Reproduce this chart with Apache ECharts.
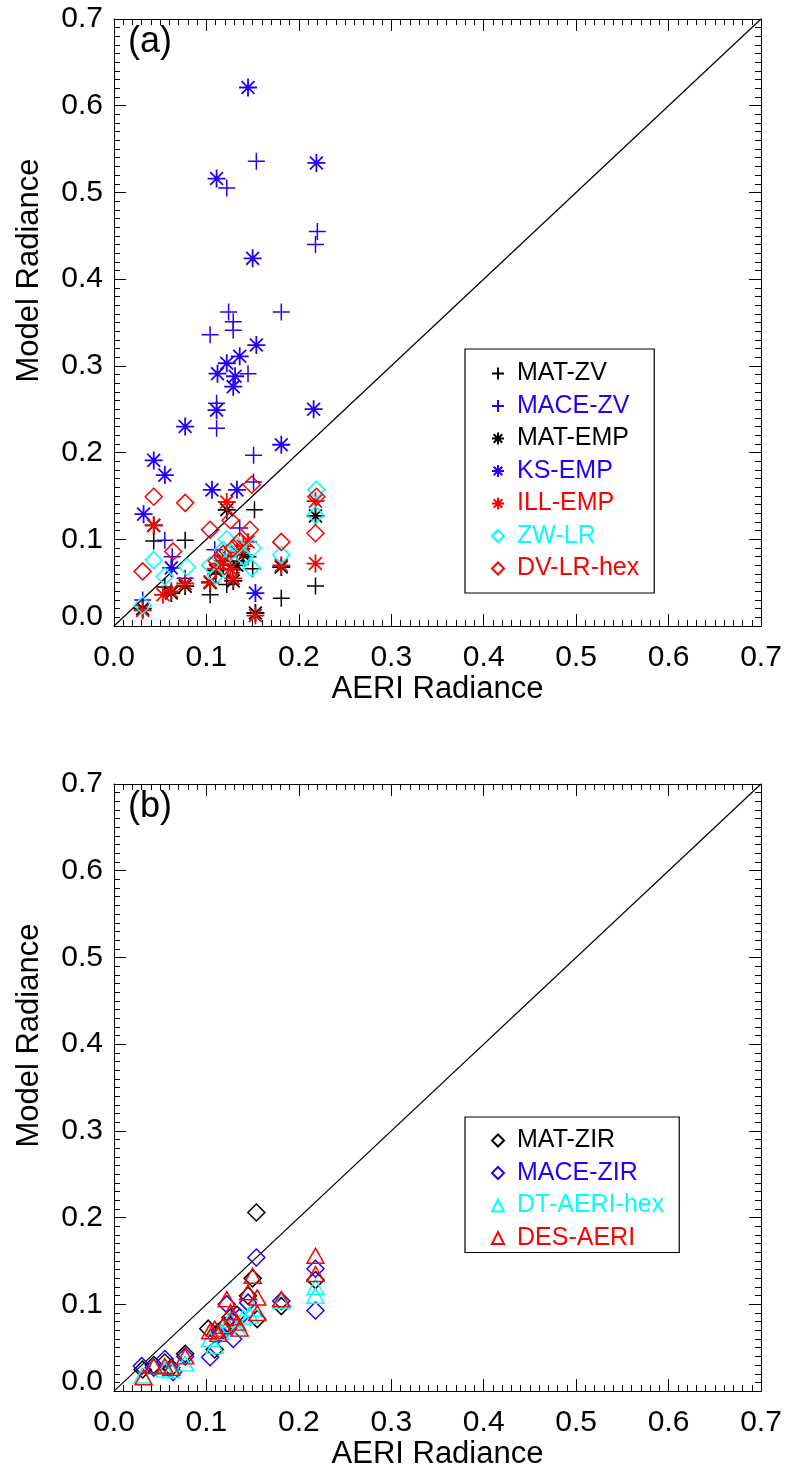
<!DOCTYPE html>
<html><head><meta charset="utf-8">
<script src="https://cdn.jsdelivr.net/npm/echarts@6/dist/echarts.min.js"></script>
<style>html,body{margin:0;padding:0;background:#fff;}#c{width:788px;height:1471px;}</style>
</head><body><div id="c"></div>
<script>
// ---- data ----
const tickLabels = ['0.0','0.1','0.2','0.3','0.4','0.5','0.6','0.7'];
const oneToOne = [[0,0],[0.7,0.7]];
// panel (a)
const MAT_ZV = [[0.031,0.020],[0.043,0.098],[0.055,0.045],[0.077,0.099],[0.104,0.036],[0.110,0.060],[0.118,0.070],[0.122,0.048],[0.129,0.065],[0.133,0.075],[0.145,0.080],[0.150,0.066],[0.152,0.134],[0.181,0.032],[0.218,0.046]];
const MACE_ZV = [[0.031,0.030],[0.055,0.099],[0.063,0.080],[0.077,0.055],[0.104,0.336],[0.109,0.088],[0.111,0.228],[0.111,0.257],[0.122,0.505],[0.124,0.362],[0.129,0.351],[0.129,0.341],[0.136,0.113],[0.145,0.291],[0.151,0.197],[0.151,0.166],[0.154,0.536],[0.181,0.362],[0.218,0.440],[0.220,0.455]];
const MAT_EMP = [[0.031,0.020],[0.043,0.116],[0.062,0.038],[0.077,0.046],[0.104,0.050],[0.110,0.064],[0.118,0.075],[0.122,0.134],[0.129,0.052],[0.133,0.070],[0.140,0.082],[0.153,0.015],[0.181,0.068],[0.218,0.127]];
const KS_EMP = [[0.032,0.129],[0.043,0.191],[0.055,0.174],[0.062,0.067],[0.077,0.230],[0.106,0.157],[0.111,0.249],[0.111,0.516],[0.112,0.291],[0.122,0.303],[0.129,0.276],[0.131,0.288],[0.133,0.157],[0.136,0.311],[0.145,0.621],[0.150,0.424],[0.154,0.324],[0.153,0.038],[0.181,0.209],[0.216,0.250],[0.219,0.534]];
const ILL_EMP = [[0.031,0.018],[0.043,0.116],[0.053,0.036],[0.062,0.040],[0.077,0.049],[0.104,0.051],[0.110,0.066],[0.115,0.072],[0.120,0.080],[0.122,0.143],[0.126,0.066],[0.129,0.055],[0.133,0.085],[0.140,0.092],[0.145,0.097],[0.153,0.012],[0.181,0.070],[0.218,0.072],[0.218,0.144]];
const ZW_LR = [[0.031,0.024],[0.043,0.076],[0.055,0.057],[0.079,0.068],[0.104,0.070],[0.110,0.058],[0.118,0.088],[0.122,0.100],[0.126,0.085],[0.133,0.093],[0.140,0.080],[0.149,0.067],[0.150,0.090],[0.181,0.082],[0.218,0.128],[0.219,0.157]];
const DV_LR_HEX = [[0.031,0.063],[0.043,0.149],[0.064,0.086],[0.077,0.142],[0.104,0.111],[0.111,0.075],[0.118,0.083],[0.126,0.122],[0.129,0.090],[0.136,0.098],[0.147,0.111],[0.149,0.163],[0.181,0.097],[0.218,0.107],[0.219,0.149]];
// panel (b)
const MAT_ZIR = [[0.031,0.025],[0.043,0.030],[0.055,0.033],[0.062,0.027],[0.077,0.043],[0.102,0.072],[0.109,0.048],[0.113,0.068],[0.120,0.075],[0.126,0.085],[0.129,0.080],[0.133,0.088],[0.145,0.110],[0.150,0.130],[0.154,0.206],[0.155,0.083],[0.181,0.098],[0.218,0.128]];
const MACE_ZIR = [[0.030,0.029],[0.043,0.027],[0.055,0.037],[0.064,0.022],[0.077,0.040],[0.104,0.039],[0.113,0.065],[0.122,0.100],[0.126,0.075],[0.129,0.060],[0.136,0.085],[0.145,0.102],[0.154,0.154],[0.181,0.104],[0.218,0.141],[0.218,0.093]];
const DT_AERI_HEX = [[0.031,0.018],[0.043,0.029],[0.055,0.025],[0.062,0.024],[0.077,0.032],[0.104,0.060],[0.109,0.052],[0.115,0.068],[0.122,0.076],[0.126,0.082],[0.133,0.072],[0.140,0.085],[0.147,0.087],[0.150,0.095],[0.181,0.104],[0.218,0.120],[0.218,0.110]];
const DES_AERI = [[0.032,0.016],[0.043,0.029],[0.055,0.029],[0.062,0.027],[0.077,0.040],[0.104,0.069],[0.109,0.072],[0.113,0.066],[0.118,0.075],[0.122,0.106],[0.126,0.091],[0.129,0.085],[0.133,0.079],[0.136,0.072],[0.145,0.114],[0.150,0.133],[0.155,0.108],[0.155,0.090],[0.181,0.106],[0.218,0.156],[0.218,0.135]];

// ---- styling ----
const FONT = 'Liberation Sans, Arial, Helvetica, sans-serif';
const BLUE = '#2200ff', RED = '#ff0000', CYAN = '#00ffff', BLACK = '#000000';
const PLUS = 'path://M0,8L16,8M8,0L8,16';
const STAR = 'path://M0,8L16,8M8,0L8,16M2.3,2.3L13.7,13.7M2.3,13.7L13.7,2.3';

const chart = echarts.init(document.getElementById('c'), null, {renderer:'canvas'});

function xAxes(gi){
  const base = {gridIndex:gi, type:'value', min:0, max:0.7, interval:0.1,
    axisLine:{show:true, onZero:false, lineStyle:{color:'#000', width:1}},
    axisTick:{show:true, inside:true, length:12, lineStyle:{color:'#000'}},
    minorTick:{show:true, splitNumber:10, length:6, lineStyle:{color:'#000'}},
    splitLine:{show:false}, minorSplitLine:{show:false}};
  return [
    Object.assign({}, base, {position:'bottom', name:'AERI Radiance', nameLocation:'middle', nameGap:47,
      nameTextStyle:{fontFamily:FONT, fontSize:31, color:'#000'},
      axisLabel:{fontFamily:FONT, fontSize:30, color:'#000', margin:17, formatter:(v)=>tickLabels[Math.round(v*10)]}}),
    Object.assign({}, base, {position:'top', axisLabel:{show:false}})
  ];
}
function yAxes(gi){
  const base = {gridIndex:gi, type:'value', min:0, max:0.7, interval:0.1,
    axisLine:{show:true, onZero:false, lineStyle:{color:'#000', width:1}},
    axisTick:{show:true, inside:true, length:12, lineStyle:{color:'#000'}},
    minorTick:{show:true, splitNumber:10, length:6, lineStyle:{color:'#000'}},
    splitLine:{show:false}, minorSplitLine:{show:false}};
  return [
    Object.assign({}, base, {position:'left', name:'Model Radiance', nameLocation:'middle', nameGap:69, nameRotate:90,
      nameTextStyle:{fontFamily:FONT, fontSize:31, color:'#000', padding:[0,0,0,104]},
      axisLabel:{fontFamily:FONT, fontSize:30, color:'#000', margin:11,
        formatter:(v)=>{const i=Math.round(v*10); return i===0 ? '{z|'+tickLabels[0]+'}' : tickLabels[i];},
        rich:{z:{fontFamily:FONT, fontSize:30, color:'#000', padding:[0,0,18,0]}}}}),
    Object.assign({}, base, {position:'right', axisLabel:{show:false}})
  ];
}
function sc(name, data, symbol, color, xi, yi, size, bw){
  return {name:name, type:'scatter', xAxisIndex:xi, yAxisIndex:yi, data:data, symbol:symbol,
    symbolSize:size||17, itemStyle:{color:'rgba(0,0,0,0)', borderColor:color, borderWidth:bw||1.5, opacity:1},
    emphasis:{disabled:true}, silent:true, z:3};
}
function legendItem(name, color){ return {name:name, textStyle:{color:color}}; }

const legendCommon = {orient:'vertical', borderColor:'#000', borderWidth:1.2, itemWidth:12, itemHeight:12,
  itemGap:7.5, selectedMode:false, textStyle:{fontFamily:FONT, fontSize:25, padding:[0,0,0,8]}};

const option = {
  backgroundColor:'#fff', animation:false,
  title:[
    {text:'(a)', left:123, top:19, textStyle:{fontFamily:FONT, fontSize:36, fontWeight:'normal', color:'#000'}},
    {text:'(b)', left:123, top:784, textStyle:{fontFamily:FONT, fontSize:36, fontWeight:'normal', color:'#000'}}
  ],
  grid:[
    {left:114, top:19, width:647, height:607, containLabel:false},
    {left:114, top:784, width:647, height:608, containLabel:false}
  ],
  xAxis:[...xAxes(0), ...xAxes(1)],
  yAxis:[...yAxes(0), ...yAxes(1)],
  legend:[
    Object.assign({}, legendCommon, {left:465, top:349, padding:[12,15,12,26],
      data:[legendItem('MAT-ZV',BLACK),legendItem('MACE-ZV',BLUE),legendItem('MAT-EMP',BLACK),legendItem('KS-EMP',BLUE),
            legendItem('ILL-EMP',RED),legendItem('ZW-LR',CYAN),legendItem('DV-LR-hex',RED)]}),
    Object.assign({}, legendCommon, {left:465, top:1117, padding:[11,15,2,26],
      data:[legendItem('MAT-ZIR',BLACK),legendItem('MACE-ZIR',BLUE),legendItem('DT-AERI-hex',CYAN),legendItem('DES-AERI',RED)]})
  ],
  series:[
    {type:'line', xAxisIndex:0, yAxisIndex:0, data:oneToOne, symbol:'none', lineStyle:{color:'#000', width:1.2}, silent:true, z:2},
    sc('MAT-ZV', MAT_ZV, PLUS, BLACK, 0, 0),
    sc('MACE-ZV', MACE_ZV, PLUS, BLUE, 0, 0),
    sc('MAT-EMP', MAT_EMP, STAR, BLACK, 0, 0, 18, 1.8),
    sc('KS-EMP', KS_EMP, STAR, BLUE, 0, 0, 18, 1.8),
    sc('ILL-EMP', ILL_EMP, STAR, RED, 0, 0, 18, 1.8),
    sc('ZW-LR', ZW_LR, 'diamond', CYAN, 0, 0),
    sc('DV-LR-hex', DV_LR_HEX, 'diamond', RED, 0, 0),
    {type:'line', xAxisIndex:2, yAxisIndex:2, data:oneToOne, symbol:'none', lineStyle:{color:'#000', width:1.2}, silent:true, z:2},
    sc('MAT-ZIR', MAT_ZIR, 'diamond', BLACK, 2, 2),
    sc('MACE-ZIR', MACE_ZIR, 'diamond', BLUE, 2, 2),
    sc('DT-AERI-hex', DT_AERI_HEX, 'triangle', CYAN, 2, 2, [17,15]),
    sc('DES-AERI', DES_AERI, 'triangle', RED, 2, 2, [17,15])
  ]
};
chart.setOption(option);
</script></body></html>
